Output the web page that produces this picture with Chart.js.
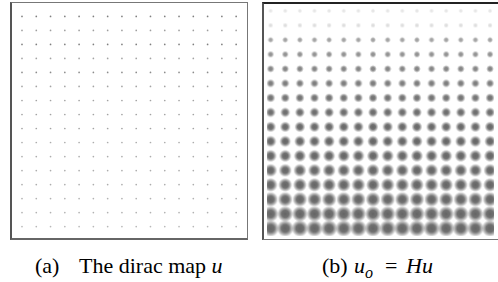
<!DOCTYPE html>
<html>
<head>
<meta charset="utf-8">
<script src="https://cdn.jsdelivr.net/npm/chart.js@4.4.0/dist/chart.umd.min.js"></script>
<style>
  html,body{margin:0;padding:0;background:#fff;}
  body{width:498px;height:282px;position:relative;overflow:hidden;}
  canvas{position:absolute;}
  .box{position:absolute;box-sizing:border-box;pointer-events:none;}
  .cap{position:absolute;font-family:"Liberation Serif","Times New Roman",serif;font-size:22px;color:#000;white-space:nowrap;line-height:1;}
  .cap i{font-style:italic;}
  .cap sub{font-size:16px;vertical-align:-5px;line-height:0;}
</style>
</head>
<body>
<canvas id="left" width="237" height="237" style="left:11px;top:3px;"></canvas>
<canvas id="right" width="235" height="237" style="left:263px;top:3px;"></canvas>
<div class="box" style="left:10px;top:2px;width:238px;height:238px;border:1px solid #777;border-left:2px solid #555;border-bottom:2px solid #666;"></div>
<div class="box" style="left:262px;top:2px;width:240px;height:238px;border-top:2px solid #222;border-left:2px solid #555;border-bottom:1px solid #777;"></div>
<div class="cap" style="left:35px;top:255px;">(a)</div>
<div class="cap" style="left:79px;top:255px;">The dirac map <i>u</i></div>
<div class="cap" style="left:322px;top:255px;">(b)</div>
<div class="cap" style="left:354px;top:255px;"><i>u<sub>o</sub></i></div>
<div class="cap" style="left:385px;top:255px;">=</div>
<div class="cap" style="left:406px;top:255px;"><i>Hu</i></div>
<script>
// ---- data ----
const cols = [1,2,3,4,5,6,7,8,9,10,11,12,13,14,15,16];
const rows = [1,2,3,4,5,6,7,8,9,10,11,12,13,14,15,16];
// dirac map: darkness (alpha) of each row's impulses
const diracShade = [0.50,0.38,0.50,0.36,0.45,0.36,0.36,0.36,0.36,0.32,0.32,0.32,0.32,0.30,0.30,0.28];
// blurred map: spread radius (px) and peak darkness per row
const blurRadius = [2.3,2.6,3.0,3.4,3.8,4.2,4.6,5.0,5.4,5.8,6.2,6.6,7.0,7.5,8.0,8.5];
const blurPeak   = [0.12,0.16,0.45,0.52,0.58,0.62,0.66,0.69,0.71,0.72,0.72,0.72,0.72,0.72,0.72,0.72];

function grid(){
  const pts=[];
  rows.forEach((r,ri)=>cols.forEach(c=>pts.push({x:c,y:r,row:ri})));
  return pts;
}

// blurred dot sprites
const sprites = blurRadius.map((R,i)=>{
  const s = Math.ceil(R)*2+2;
  const cv = document.createElement('canvas');
  cv.width=s; cv.height=s;
  const g = cv.getContext('2d');
  const c = s/2;
  const a = blurPeak[i];
  const gr = g.createRadialGradient(c,c,0,c,c,R);
  gr.addColorStop(0,`rgba(40,40,40,${a})`);
  gr.addColorStop(0.45,`rgba(40,40,40,${a*0.92})`);
  gr.addColorStop(0.75,`rgba(40,40,40,${a*0.45})`);
  gr.addColorStop(1,'rgba(40,40,40,0)');
  g.fillStyle=gr;
  g.fillRect(0,0,s,s);
  return cv;
});

const base = {
  type:'scatter',
  options:{
    responsive:false, animation:false,
    layout:{padding:0},
    plugins:{legend:{display:false},tooltip:{enabled:false}},
    events:[]
  }
};

new Chart(document.getElementById('left'),{
  ...base,
  data:{datasets:[{
    data:grid(),
    pointStyle:'circle',
    pointRadius:0.85,
    borderWidth:0,
    backgroundColor:(ctx)=>{const p=ctx.raw; return p?`rgba(0,0,0,${diracShade[p.row]})`:'#999';}
  }]},
  options:{...base.options,
    scales:{
      x:{type:'linear',display:false,min:0.51,max:16.55},
      y:{type:'linear',display:false,reverse:true,min:0.33,max:16.67}
    }}
});

new Chart(document.getElementById('right'),{
  ...base,
  data:{datasets:[{
    data:grid(),
    pointStyle:(ctx)=>{const p=ctx.raw; return p?sprites[p.row]:'circle';},
    pointRadius:3,
    borderWidth:0
  }]},
  options:{...base.options,
    scales:{
      x:{type:'linear',display:false,min:0.756,max:16.27},
      y:{type:'linear',display:false,reverse:true,min:0.733,max:16.53}
    }}
});
</script>
</body>
</html>
